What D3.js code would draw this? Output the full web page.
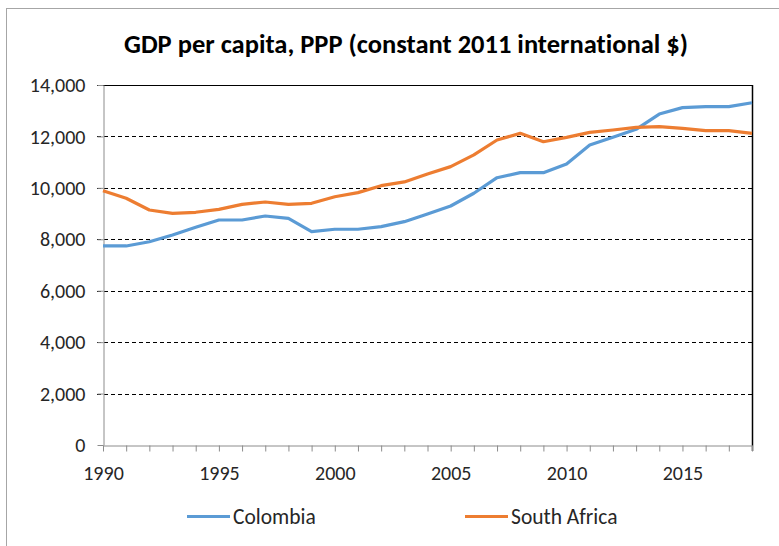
<!DOCTYPE html>
<html>
<head>
<meta charset="utf-8">
<script src="https://cdn.jsdelivr.net/npm/d3@7"></script>
<style>
  html, body { margin: 0; padding: 0; background: #fff; }
  svg { display: block; }
  text { font-variant-ligatures: none; font-feature-settings: "liga" 0; }
</style>
</head>
<body>
<svg id="chart" width="779" height="546"></svg>
<script>
// GDP per capita, PPP (constant 2011 international $)
const years = d3.range(1990, 2019);
const colombia = [7740, 7740, 7905, 8165, 8465, 8750, 8750, 8905, 8815, 8295,
  8390, 8390, 8490, 8685, 8985, 9295, 9790, 10395, 10590, 10590,
  10930, 11665, 11965, 12275, 12870, 13120, 13160, 13160, 13310];
const southAfrica = [9890, 9595, 9140, 9010, 9050, 9165, 9360, 9450, 9360, 9400,
  9655, 9815, 10085, 10230, 10540, 10825, 11280, 11860, 12120, 11795,
  11965, 12160, 12250, 12355, 12380, 12315, 12225, 12225, 12120];
const yTicks = [0, 2000, 4000, 6000, 8000, 10000, 12000, 14000];
const xLabelYears = [1990, 1995, 2000, 2005, 2010, 2015];
const seriesNames = ["Colombia", "South Africa"];
const seriesColors = ["#5B9BD5", "#ED7D31"];

const svg = d3.select("#chart");
const font = "Carlito, Calibri, 'Liberation Sans Narrow', 'Open Sans', sans-serif";

// outer chart frame
svg.append("rect")
  .attr("x", 6.5).attr("y", 8.5).attr("width", 800).attr("height", 600)
  .attr("fill", "none").attr("stroke", "#a6a6a6").attr("stroke-width", 1);

const plotLeft = 103, plotRight = 752, plotTop = 85, plotBottom = 445;
const x = d3.scaleLinear().domain([1990, 2018]).range([plotLeft, plotRight]);
const y = d3.scaleLinear().domain([0, 14000]).range([plotBottom, plotTop]);

// title
svg.append("text")
  .attr("x", 124).attr("y", 53)
  .attr("text-anchor", "start")
  .attr("font-family", font).attr("font-weight", "bold")
  .attr("font-size", 26.5).attr("fill", "#000")
  .text("GDP per capita, PPP (constant 2011 international $)");

// horizontal dashed gridlines
svg.append("g").selectAll("line")
  .data(yTicks.filter(v => v > 0 && v < 14000))
  .join("line")
  .attr("x1", plotLeft - 6).attr("x2", plotRight)
  .attr("y1", d => Math.round(y(d)) + 0.5).attr("y2", d => Math.round(y(d)) + 0.5)
  .attr("stroke", "#000").attr("stroke-width", 1)
  .attr("stroke-dasharray", "4,3");

// plot border: solid top and right edges
svg.append("line")
  .attr("x1", plotLeft - 6).attr("x2", plotRight + 0.5)
  .attr("y1", Math.round(y(14000)) + 0.5).attr("y2", Math.round(y(14000)) + 0.5)
  .attr("stroke", "#000").attr("stroke-width", 1.2);
svg.append("line")
  .attr("x1", plotRight + 0.5).attr("x2", plotRight + 0.5)
  .attr("y1", y(14000)).attr("y2", plotBottom + 6)
  .attr("stroke", "#000").attr("stroke-width", 1.5);

// y axis
const yAxis = svg.append("g")
  .attr("transform", `translate(${plotLeft + 0.5},0)`)
  .call(d3.axisLeft(y).tickValues(yTicks).tickSize(6).tickSizeOuter(0)
    .tickFormat(d3.format(",")));
yAxis.select(".domain").attr("stroke", "#8c8c8c");
yAxis.selectAll(".tick line").attr("stroke", "#8c8c8c");
yAxis.selectAll("text")
  .attr("font-family", font).attr("font-size", 20).attr("fill", "#262626")
  .attr("x", -18).attr("dy", "0.33em");

// x axis with a tick per year, labels every five years
const xAxis = svg.append("g")
  .attr("transform", `translate(0,${plotBottom + 0.5})`)
  .call(d3.axisBottom(x).tickValues(years).tickSize(6).tickSizeOuter(0)
    .tickFormat(d => xLabelYears.includes(d) ? d : ""));
xAxis.select(".domain").attr("stroke", "#8c8c8c");
xAxis.selectAll(".tick line").attr("stroke", "#8c8c8c");
xAxis.selectAll("text")
  .attr("font-family", font).attr("font-size", 20).attr("fill", "#262626")
  .attr("y", 34).attr("dy", 0);

// series lines
const line = d3.line().x((d, i) => x(years[i])).y(d => y(d));
[colombia, southAfrica].forEach((vals, i) => {
  svg.append("path")
    .datum(vals)
    .attr("d", line)
    .attr("fill", "none")
    .attr("stroke", seriesColors[i])
    .attr("stroke-width", 3.2)
    .attr("stroke-linejoin", "round");
});

// legend
const legendPos = [187, 465];
seriesNames.forEach((name, i) => {
  const g = svg.append("g").attr("transform", `translate(${legendPos[i]},516.5)`);
  g.append("line").attr("x1", 0).attr("x2", 43).attr("y1", 0).attr("y2", 0)
    .attr("stroke", seriesColors[i]).attr("stroke-width", 3.2);
  g.append("text").attr("x", 46).attr("y", 0).attr("dy", "0.33em")
    .attr("font-family", font).attr("font-size", 21.5).attr("fill", "#262626")
    .text(name);
});
</script>
</body>
</html>
